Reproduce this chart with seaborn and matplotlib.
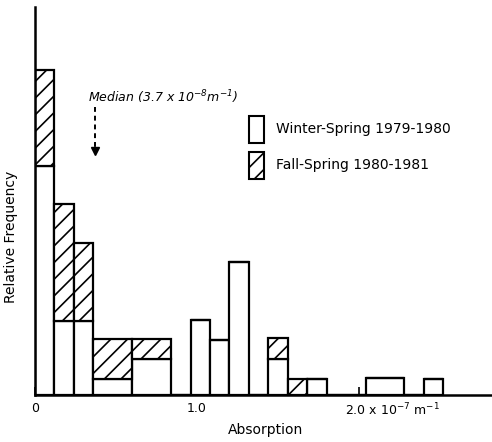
import matplotlib
matplotlib.use("Agg")
import matplotlib.pyplot as plt
import numpy as np
import pandas as pd
import seaborn as sns
from matplotlib.patches import Patch
from matplotlib.transforms import ScaledTranslation

# Bin edges of the absorption histogram (units of 1e-7 m^-1)
bin_edges = [0.00, 0.12, 0.24, 0.36, 0.60, 0.84, 0.96, 1.08, 1.20, 1.32,
             1.44, 1.56, 1.68, 1.80, 2.04, 2.28, 2.40, 2.52]
# Relative frequency per bin for each sampling period
winter_spring = [11.45, 3.70, 3.70, 0.80, 1.80, 0.0, 3.75, 2.75, 6.65, 0.0,
                 1.80, 0.0, 0.80, 0.0, 0.85, 0.0, 0.80]
fall_spring = [4.80, 5.85, 3.90, 2.00, 1.00, 0.0, 0.0, 0.0, 0.0, 0.0,
               1.05, 0.80, 0.0, 0.0, 0.0, 0.0, 0.0]
season_labels = ["Winter-Spring 1979-1980", "Fall-Spring 1980-1981"]
median_absorption = 0.37  # 3.7e-8 m^-1
x_ticks = [0.0, 1.0, 2.0]
x_tick_labels = ["0", "1.0", "2.0 x 10$^{-7}$ m$^{-1}$"]

sns.set_theme(style="ticks")
plt.rcParams["font.family"] = ["DejaVu Sans"]
plt.rcParams["mathtext.default"] = "regular"
plt.rcParams["hatch.linewidth"] = 1.2
plt.rcParams["text.color"] = "black"
plt.rcParams["axes.labelcolor"] = "black"
plt.rcParams["xtick.color"] = "black"

edges = np.array(bin_edges)
mids = (edges[:-1] + edges[1:]) / 2
df = pd.DataFrame({
    "absorption": np.concatenate([mids, mids]),
    "frequency": np.concatenate([winter_spring, fall_spring]),
    "season": [season_labels[0]] * len(mids) + [season_labels[1]] * len(mids),
})

fig = plt.figure(figsize=(4.92, 4.42), dpi=100)
ax = fig.add_axes([0.071, 0.106, 0.929, 0.878])

sns.histplot(
    data=df, x="absorption", weights="frequency", hue="season",
    hue_order=[season_labels[1], season_labels[0]],
    bins=bin_edges, multiple="stack", stat="count",
    palette={season_labels[0]: "white", season_labels[1]: "white"},
    edgecolor="black", linewidth=1.6, alpha=1.0, legend=False, ax=ax,
)

# Hatch the bars stacked on top (Fall-Spring)
for cont in ax.containers:
    if cont.patches and cont.patches[0].get_y() > 0:
        for p in cont.patches:
            p.set_hatch("//")

ax.set_xlim(0, 2.82)
ax.set_ylim(0, 19.4)
ax.set_yticks([])
ax.set_xticks(x_ticks)
ax.set_xticklabels(x_tick_labels, fontsize=9)
ax.tick_params(axis="x", direction="in", length=6, width=1.2, pad=5,
               color="black", labelcolor="black")
lbl = ax.get_xticklabels()[2]
lbl.set_horizontalalignment("left")
lbl.set_transform(lbl.get_transform() + ScaledTranslation(-0.14, 0, fig.dpi_scale_trans))

sns.despine(ax=ax)
for side in ("left", "bottom"):
    ax.spines[side].set_linewidth(1.8)
    ax.spines[side].set_color("black")

ax.set_xlabel("Absorption", fontsize=10)
ax.xaxis.set_label_coords(0.505, -0.072)
ax.set_ylabel("Relative Frequency", fontsize=10)
ax.yaxis.set_label_coords(-0.037, 0.407)

# Median marker
ax.text(median_absorption - 0.045, 14.9, "Median (3.7 x 10$^{-8}$m$^{-1}$)",
        fontsize=9, style="italic", va="center", ha="left")
ax.plot([median_absorption, median_absorption], [14.4, 12.3], color="black",
        lw=1.4, ls=(0, (2.5, 2)))
ax.plot([median_absorption], [12.2], marker="v", color="black", markersize=6)

handles = [Patch(facecolor="white", edgecolor="black", linewidth=1.5),
           Patch(facecolor="white", edgecolor="black", linewidth=1.5, hatch="//")]
ax.legend(handles, season_labels, loc="upper left", bbox_to_anchor=(0.468, 0.72),
          frameon=False, fontsize=10, handlelength=1.08, handleheight=2.61,
          labelspacing=0.65, handletextpad=0.86, borderpad=0, borderaxespad=0)

fig.savefig("out.png", dpi=100)
